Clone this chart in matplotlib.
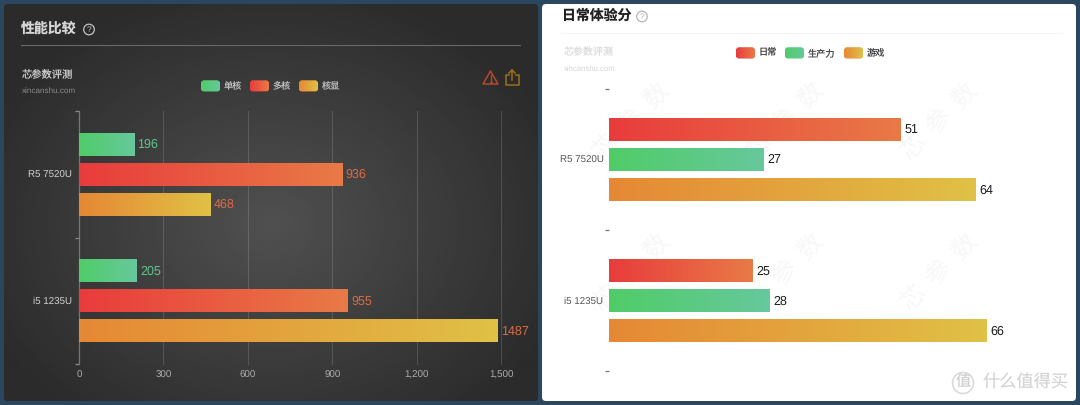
import numpy as np
import matplotlib
matplotlib.use("Agg")
import matplotlib.pyplot as plt
from matplotlib.colors import LinearSegmentedColormap
from matplotlib.patches import Circle, FancyBboxPatch, Polygon

plt.rcParams['font.family'] = ['Liberation Sans', 'Noto Sans CJK SC', 'DejaVu Sans']
plt.rcParams['text.hinting'] = 'none'

# Chart data
categories = ['R5 7520U', 'i5 1235U']
perf_single = [196, 205]
perf_multi = [936, 955]
perf_igpu = [468, 1487]
perf_ticks = [0, 300, 600, 900, 1200, 1500]
perf_tick_labels = ['0', '300', '600', '900', '1,200', '1,500']
perf_legend = ['单核', '多核', '核显']
daily_everyday = [51, 25]
daily_productivity = [27, 28]
daily_gaming = [64, 66]
daily_legend = ['日常', '生产力', '游戏']

W, H = 1080, 405
GREEN = ('#50cc68', '#67c89c')
RED = ('#e93c3c', '#e87a46')
ORANGE = ('#e68835', '#e0c146')

fig = plt.figure(figsize=(W / 100, H / 100), dpi=100, facecolor='#2b475f')

# Backdrop layer addressed in pixels
bg = fig.add_axes([0, 0, 1, 1], zorder=0)
bg.set_xlim(0, W)
bg.set_ylim(H, 0)
bg.axis('off')


def panel(x0, y0, x1, y1, **kw):
    p = FancyBboxPatch((x0 + 3, y0 + 3), x1 - x0 - 6, y1 - y0 - 6,
                       boxstyle='round,pad=3,rounding_size=4',
                       linewidth=0, **kw)
    bg.add_patch(p)
    return p


# Dark card with a soft radial glow
dark = panel(4, 4, 538, 401, facecolor='#2f2f2f')
gx, gy = np.meshgrid(np.linspace(4, 538, 267), np.linspace(4, 401, 199))
dist = np.clip(np.hypot((gx - 270) / 310, (gy - 225) / 245), 0, 1)
glow = bg.imshow(0.315 - 0.145 * dist, extent=(4, 538, 401, 4), cmap='gray',
                 vmin=0, vmax=1, aspect='auto', zorder=1)
glow.set_clip_path(dark)
white = panel(542, 4, 1076, 401, facecolor='white', zorder=1)
bg.set_xlim(0, W)
bg.set_ylim(H, 0)


def qmark(x, y, color):
    bg.add_patch(Circle((x, y), 5.3, fill=False, edgecolor=color, linewidth=0.9, zorder=3))
    bg.text(x, y + 0.2, '?', color=color, fontsize=6, ha='center', va='center', zorder=3)


def legend(items, colors, swatches, y, text_color):
    for name, cols, sx in zip(items, colors, swatches):
        sw = FancyBboxPatch((sx + 3, y - 2.5), 13, 5, boxstyle='round,pad=3,rounding_size=3',
                            linewidth=0, facecolor=cols[0], zorder=3)
        bg.add_patch(sw)
        g = bg.imshow(np.linspace(0, 1, 64).reshape(1, -1), extent=(sx, sx + 19, y + 5.5, y - 5.5),
                      cmap=LinearSegmentedColormap.from_list('sw', cols), aspect='auto', zorder=4)
        g.set_clip_path(sw)
        bg.text(sx + 23, y, name, color=text_color, fontsize=6.6, va='center', zorder=4)
    bg.set_xlim(0, W)
    bg.set_ylim(H, 0)


# Left card header
bg.text(21, 29, '性能比较', color='#d6d6d6', fontsize=10, fontweight='bold', va='center', zorder=3)
qmark(89, 29.5, '#c4c4c4')
bg.plot([21, 520], [45, 45], color='#686868', lw=0.8, zorder=3)
bg.text(22, 74, '芯参数评测', color='#c9c9c9', fontsize=7.4, va='center', zorder=3)
bg.text(21.5, 91, 'xincanshu.com', color='#8a8a8a', fontsize=5.9, va='center', zorder=3)
legend(perf_legend, [GREEN, RED, ORANGE], [201, 250, 299], 86, '#bdbdbd')

# Warning and share icons
bg.add_patch(Polygon([(490.5, 71), (498, 84), (483, 84)], closed=True, fill=False,
                     edgecolor='#b8472c', linewidth=1.1, joinstyle='round', zorder=3))
bg.plot([490.5, 490.5], [75, 80], color='#b8472c', lw=1, zorder=3)
bg.plot([490.5], [82], '.', color='#b8472c', ms=1.6, zorder=3)
bg.plot([508.5, 505.5, 505.5, 518.5, 518.5, 515.5], [75, 75, 84.5, 84.5, 75, 75],
        color='#9c7118', lw=1.1, zorder=3)
bg.plot([512, 512], [70, 80], color='#9c7118', lw=1.1, zorder=3)
bg.plot([509, 512, 515], [73, 70, 73], color='#9c7118', lw=1.1, zorder=3)

# Right card header
bg.text(562, 16, '日常体验分', color='#222222', fontsize=10, fontweight='bold', va='center', zorder=3)
qmark(642, 16.5, '#b5b5b5')
bg.plot([561, 1062], [32.5, 32.5], color='#f4f4f4', lw=0.8, zorder=3)
bg.text(564, 52, '芯参数评测', color='#dcdcdc', fontsize=7.2, va='center', zorder=3)
bg.text(564, 69, 'xincanshu.com', color='#d6d6d6', fontsize=5.6, va='center', zorder=3)
legend(daily_legend, [RED, GREEN, ORANGE], [736, 785, 844], 53, '#444444')

# Faint repeated watermark on the white card, one glyph at a time along the diagonal
for wx in (631, 785, 939):
    for wy in (122, 273):
        for k, ch in enumerate('芯参数'):
            bg.text(wx + (k - 1) * 26, wy - (k - 1) * 26, ch, color='#f8f8f8', fontsize=18,
                    rotation=45, ha='center', va='center', zorder=2)

# Site mark in the lower right corner
bg.add_patch(Circle((963, 383), 10.5, fill=False, edgecolor='#d8d8d8', linewidth=1.1, zorder=6))
bg.text(963, 382, '值', color='#d0d0d0', fontsize=11, ha='center', va='center', zorder=6)
bg.text(983, 383, '什么值得买', color='#d5d5d5', fontsize=12.4, va='center', zorder=6)


def chart_axes(x0, x1, y0, y1, xmax):
    ax = fig.add_axes([x0 / W, 1 - y1 / H, (x1 - x0) / W, (y1 - y0) / H], zorder=5)
    ax.patch.set_alpha(0)
    ax.set_xlim(0, xmax)
    ax.set_ylim(2, 0)
    for s in ('top', 'right', 'bottom'):
        ax.spines[s].set_visible(False)
    return ax


def gradient_bars(ax, values, colors, slot, band_px, xmax, label_color, label_gap):
    cmap = LinearSegmentedColormap.from_list('bar', colors)
    step = 30 / band_px
    for i, v in enumerate(values):
        yc = i + 0.5 + slot * step
        hb = 23 / band_px
        bar = ax.barh(yc, v, height=hb, color=colors[1], linewidth=0, zorder=3)[0]
        im = ax.imshow(np.linspace(0, 1, 128).reshape(1, -1),
                       extent=(0, v, yc + hb / 2, yc - hb / 2),
                       cmap=cmap, aspect='auto', zorder=4)
        im.set_clip_path(bar)
        ax.text(v + label_gap, yc + 0.004, str(v), color=label_color, fontsize=9,
                va='center', ha='left', zorder=5)
    ax.set_xlim(0, xmax)
    ax.set_ylim(2, 0)


# Performance comparison
left = chart_axes(79, 501, 111, 364, perf_ticks[-1])
left.spines['left'].set_color('#777777')
left.spines['left'].set_linewidth(0.9)
left.set_xticks(perf_ticks, perf_tick_labels)
left.tick_params(axis='x', length=0, pad=5, labelsize=7, labelcolor='#adadad')
left.grid(axis='x', color='#ffffff', alpha=0.14, lw=0.8, zorder=1)
for gridline in left.get_xgridlines():
    gridline.set_clip_on(False)
left.set_axisbelow(True)
left.set_yticks([0, 1, 2])
left.set_yticklabels([])
left.set_yticks([0.5, 1.5], categories, minor=True)
left.tick_params(axis='y', which='major', length=3, width=0.9, color='#8a8a8a')
left.tick_params(axis='y', which='minor', length=0, pad=5, labelsize=7, labelcolor='#d2d2d2')
band = 126.5
gradient_bars(left, perf_single, GREEN, -1, band, perf_ticks[-1], '#5ec68c', 12)
gradient_bars(left, perf_multi, RED, 0, band, perf_ticks[-1], '#db6a44', 12)
gradient_bars(left, perf_igpu, ORANGE, 1, band, perf_ticks[-1], '#db6a44', 12)

# Daily experience scores
right = chart_axes(609, 1067, 89, 371, 80)
right.spines['left'].set_visible(False)
right.set_xticks([])
right.set_yticks([0, 1, 2])
right.set_yticklabels([])
right.set_yticks([0.5, 1.5], categories, minor=True)
right.tick_params(axis='y', which='major', length=3, width=0.9, color='#777777')
right.tick_params(axis='y', which='minor', length=0, pad=4, labelsize=7, labelcolor='#555555')
band = 141
gradient_bars(right, daily_everyday, RED, -1, band, 80, '#1c1c1c', 0.7)
gradient_bars(right, daily_productivity, GREEN, 0, band, 80, '#1c1c1c', 0.7)
gradient_bars(right, daily_gaming, ORANGE, 1, band, 80, '#1c1c1c', 0.7)

fig.savefig('out.png', dpi=100, facecolor=fig.get_facecolor())
